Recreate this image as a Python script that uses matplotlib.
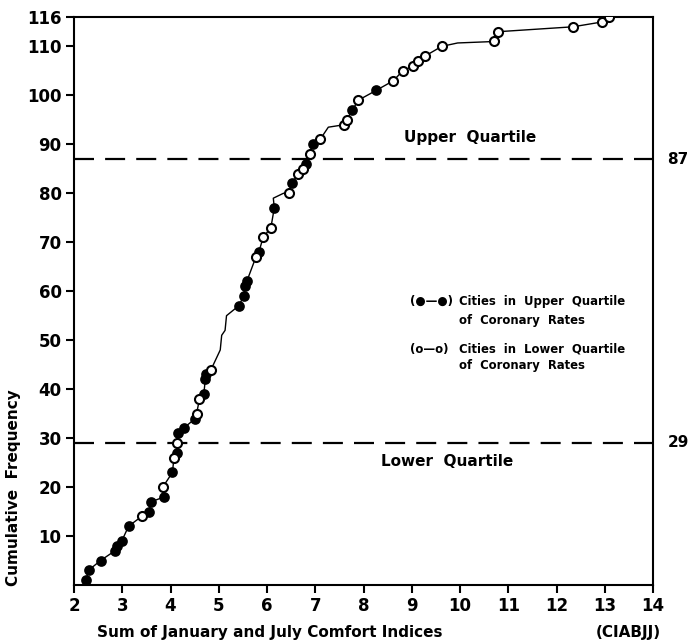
import numpy as np
import matplotlib as mpl
mpl.use("Agg")
import matplotlib.pyplot as plt

# cumulative curve through all cities
curve_x = [2.24, 2.25, 2.30, 2.55, 2.85, 2.90, 2.99, 3.13, 3.40, 3.55, 3.60, 3.87, 3.84,
           4.04, 4.07, 4.13, 4.13, 4.16, 4.27, 4.51, 4.54, 4.60, 4.69, 4.72, 4.74, 4.84,
           5.03, 5.06, 5.13, 5.16, 5.41, 5.52, 5.54, 5.58, 5.77, 5.83, 5.92, 6.08, 6.15,
           6.13, 6.34, 6.46, 6.51, 6.65, 6.75, 6.81, 6.88, 6.95, 7.10, 7.27, 7.60, 7.65,
           7.77, 7.89, 8.26, 8.62, 8.81, 9.03, 9.13, 9.27, 9.62, 9.95, 10.71, 10.79,
           12.34, 12.95, 13.09]
curve_y = [0, 1, 3, 5, 7, 8, 9, 12, 14, 15, 17, 18, 20,
           23, 26, 27, 29, 31, 32, 34, 35, 38, 39, 42, 43, 44,
           48, 51, 52, 55, 57, 59, 61, 62, 67, 68, 71, 73, 77,
           79, 80, 80, 82, 84, 85, 86, 88, 90, 91, 93.5, 94, 95,
           97, 99, 101, 103, 105, 106, 107, 108, 110, 110.7, 111, 113,
           114, 115, 116]

# cities in upper quartile of coronary rates (filled)
upper_x = [2.25, 2.30, 2.55, 2.85, 2.90, 2.99, 3.13, 3.55, 3.60, 3.87, 4.04, 4.13, 4.16,
           4.27, 4.51, 4.69, 4.72, 4.74, 5.41, 5.52, 5.54, 5.58, 5.83, 6.15, 6.51, 6.81,
           6.95, 7.77, 8.26]
upper_y = [1, 3, 5, 7, 8, 9, 12, 15, 17, 18, 23, 27, 31,
           32, 34, 39, 42, 43, 57, 59, 61, 62, 68, 77, 82, 86,
           90, 97, 101]

# cities in lower quartile of coronary rates (open)
lower_x = [3.40, 3.84, 4.07, 4.13, 4.54, 4.60, 4.84, 5.77, 5.92, 6.08, 6.46, 6.65, 6.75,
           6.88, 7.10, 7.60, 7.65, 7.89, 8.62, 8.81, 9.03, 9.13, 9.27, 9.62, 10.71, 10.79,
           12.34, 12.95, 13.09]
lower_y = [14, 20, 26, 29, 35, 38, 44, 67, 71, 73, 80, 84, 85,
           88, 91, 94, 95, 99, 103, 105, 106, 107, 108, 110, 111, 113,
           114, 115, 116]

quartiles = [87, 29]
x_ticks = list(range(2, 15))
y_ticks = [10, 20, 30, 40, 50, 60, 70, 80, 90, 100, 110, 116]

plt.rcParams['font.family'] = ['DejaVu Sans']
plt.rcParams['font.weight'] = 'bold'

fig = plt.figure(figsize=(6.92, 6.42), dpi=100)
ax = fig.add_axes([0.107, 0.0888, 0.8367, 0.8847])

ax.plot(curve_x, curve_y, color='black', lw=1.0, zorder=2)
ax.plot(upper_x, upper_y, 'o', ms=6.5, mfc='black', mec='black', mew=1.2, zorder=3)
ax.plot(lower_x, lower_y, 'o', ms=6.5, mfc='white', mec='black', mew=1.5, zorder=4)

for q in quartiles:
    ax.plot([2, 14.25], [q, q], color='black', lw=1.6, dashes=(9, 5), clip_on=False, zorder=1)
    ax.text(14.3, q, str(q), fontsize=11, va='center', ha='left')

ax.text(10.2, 91.4, 'Upper  Quartile', fontsize=11, ha='center', va='center')
ax.text(9.73, 25.2, 'Lower  Quartile', fontsize=11, ha='center', va='center')

legend_lines = [('(\u25cf\u2014\u25cf)', 'Cities  in  Upper  Quartile', 301),
                (None, 'of  Coronary  Rates', 320),
                ('(o\u2014o)', 'Cities  in  Lower  Quartile', 349),
                (None, 'of  Coronary  Rates', 365)]
for sym, txt, py in legend_lines:
    yy = 1 - py / 642
    if sym:
        fig.text(410 / 692, yy, sym, fontsize=8.5, va='center', ha='left')
    fig.text(459 / 692, yy, txt, fontsize=8.4, va='center', ha='left')

ax.set_xlim(2, 14)
ax.set_ylim(0, 116)
ax.set_xticks(x_ticks)
ax.set_yticks(y_ticks)
ax.tick_params(direction='out', length=6, width=1.5, labelsize=12, pad=3)
for s in ax.spines.values():
    s.set_linewidth(1.5)

fig.text(270 / 692, 1 - 632 / 642, 'Sum of January and July Comfort Indices',
         fontsize=11, ha='center', va='center')
fig.text(628 / 692, 1 - 632 / 642, '(CIABJJ)', fontsize=11, ha='center', va='center')
fig.text(14 / 692, 1 - 488 / 642, 'Cumulative  Frequency', fontsize=11,
         rotation=90, ha='center', va='center')

fig.savefig('out.png', dpi=100)
